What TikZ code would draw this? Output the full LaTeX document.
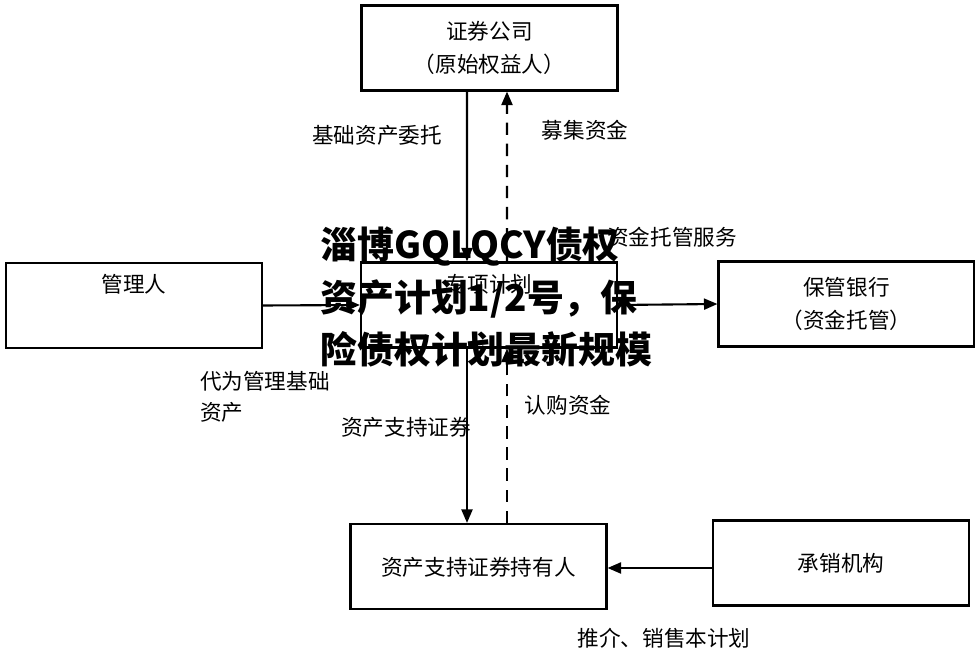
\documentclass[tikz,border=0pt]{standalone}
\usepackage{fontspec}
\newfontfamily\cjk{Noto Sans CJK SC}
\usetikzlibrary{arrows.meta,positioning}

\tikzset{
  box/.style={draw, line width=1.2pt, minimum width=5.12cm, minimum height=1.7cm,
    inner sep=0pt, align=center, font=\cjk\fontsize{12.3}{19}\selectfont},
  lbl/.style={inner sep=1pt, font=\cjk\fontsize{12.3}{17.6}\selectfont},
  flow/.style={-{Triangle[length=0.27cm,width=0.22cm]}, line width=1.2pt},
  money/.style={flow, dashed, dash pattern=on 7pt off 5pt},
  overlaytxt/.style={inner sep=0pt, align=left, font=\cjk\bfseries\fontsize{21}{30}\selectfont},
}

\begin{document}
\begin{tikzpicture}[x=0.02cm, y=-0.02cm]
  \useasboundingbox (0,0) rectangle (975,658);

  % nodes
  \node[box] (sec) at (489.5,48) {证券公司\\（原始权益人）};
  \node[box] (spv) at (489,305) {专项计划\\[6pt]\mbox{}};
  \node[box] (mgr) at (134,305.5) {管理人\\[6pt]\mbox{}};
  \node[box] (bank) at (846.5,304) {保管银行\\（资金托管）};
  \node[box] (hold) at (478.5,566.5) {\mbox{}\\[-8pt]资产支持证券持有人};
  \node[box] (uw) at (841,563) {承销机构};

  % edges
  \draw[flow] ([xshift=-0.45cm]sec.south) -- ([xshift=-0.44cm]spv.north);
  \draw[money] ([xshift=0.36cm]spv.north) -- ([xshift=0.35cm]sec.south);
  \draw[flow] ([xshift=-0.44cm]spv.south) -- ([xshift=-0.44cm]spv.south |- hold.north);
  \draw[money] ([xshift=0.36cm]spv.south |- hold.north) -- ([xshift=0.36cm]spv.south);
  \draw[flow] (mgr.east) -- (spv.west);
  \draw[flow] (spv.east) -- (bank.west);
  \draw[flow] ([yshift=-0.1cm]uw.west) -- ([yshift=-0.1cm]uw.west -| hold.east);

  % text
  \node[lbl] (l1) at (377,135) {基础资产委托};
  \node[lbl] (l2) at (585,130) {募集资金};
  \node[lbl] (l3) at (672,237) {资金托管服务};
  \node[lbl, align=left, anchor=west] (l4) at (198,397) {代为管理基础\\资产};
  \node[lbl] (l5) at (406,427) {资产支持证券};
  \node[lbl] (l6) at (568,405) {认购资金};
  \node[lbl] (l7) at (664,638) {推介、销售本计划};

  % overlay
  \node[overlaytxt, anchor=west] (wm) at (320,297)
    {淄博GQLQCY债权\\资产计划1/2号，保\\险债权计划最新规模};
\end{tikzpicture}
\end{document}
